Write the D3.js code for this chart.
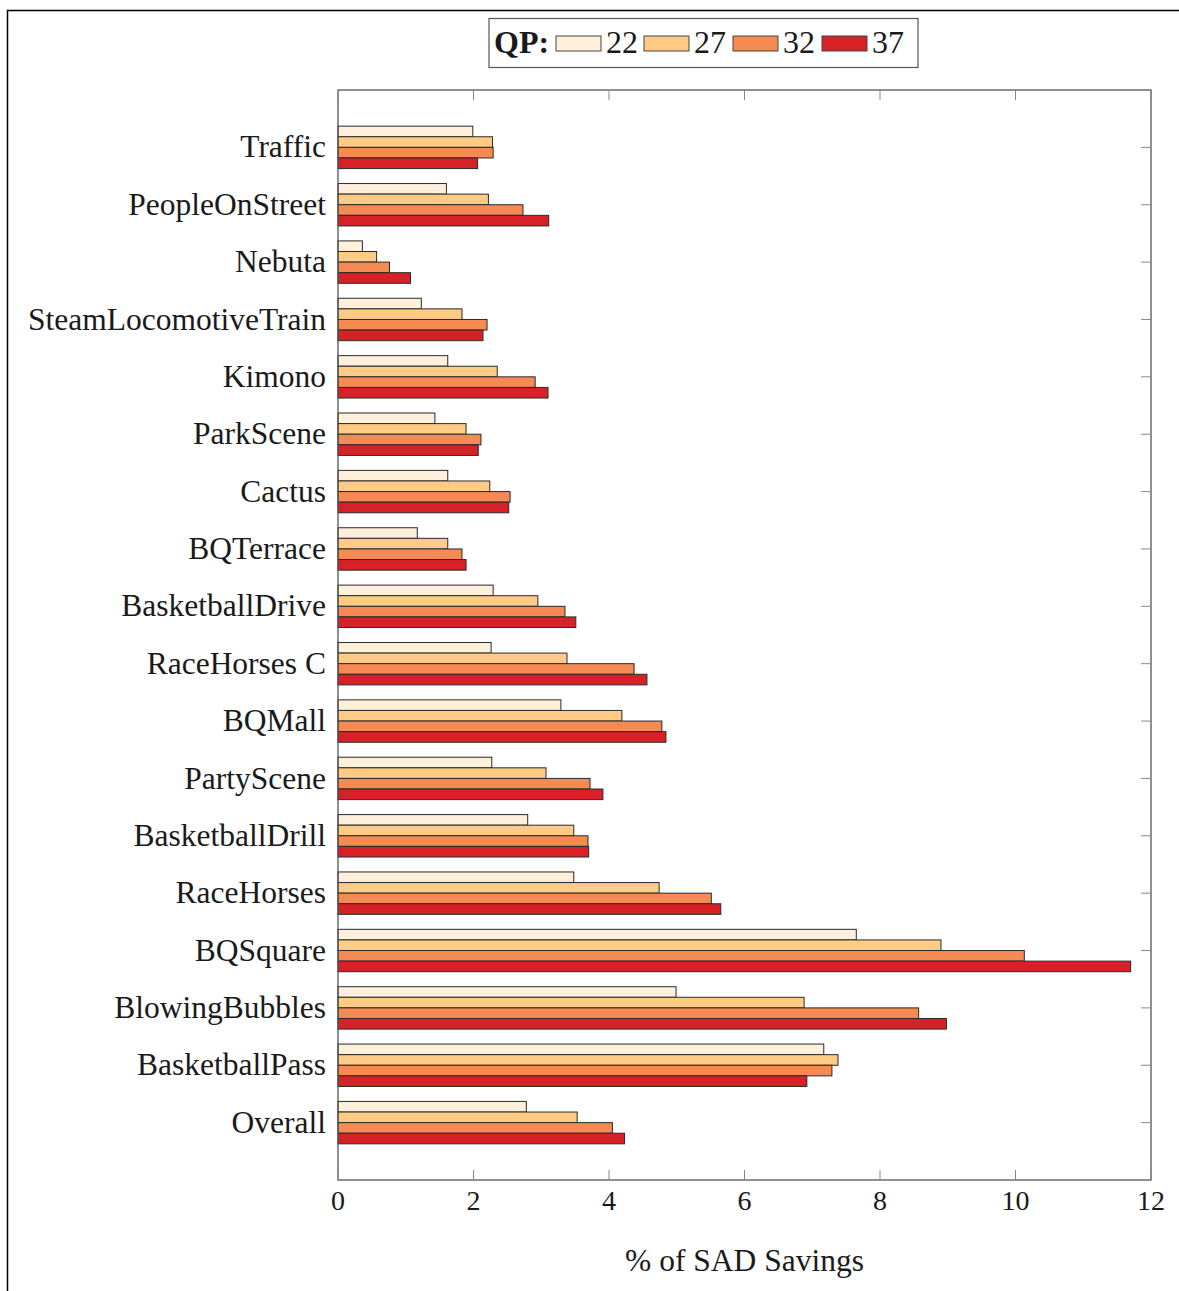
<!DOCTYPE html>
<html>
<head>
<meta charset="utf-8">
<script src="https://cdn.jsdelivr.net/npm/d3@7"></script>
<style>
  body { margin: 0; background: #fff; }
  svg { display: block; font-family: "Liberation Serif", "DejaVu Serif", serif; }
</style>
</head>
<body>
<div class="app"></div>
<script>
// sequences, top to bottom
var categories = ["Traffic", "PeopleOnStreet", "Nebuta", "SteamLocomotiveTrain", "Kimono",
  "ParkScene", "Cactus", "BQTerrace", "BasketballDrive", "RaceHorses C", "BQMall",
  "PartyScene", "BasketballDrill", "RaceHorses", "BQSquare", "BlowingBubbles",
  "BasketballPass", "Overall"];
var qps = ["22", "27", "32", "37"];
var qp22 = [1.99, 1.60, 0.36, 1.23, 1.62, 1.43, 1.62, 1.17, 2.29, 2.26, 3.29, 2.27, 2.80, 3.48, 7.65, 4.99, 7.17, 2.78];
var qp27 = [2.28, 2.22, 0.57, 1.83, 2.35, 1.89, 2.24, 1.62, 2.95, 3.38, 4.19, 3.07, 3.48, 4.74, 8.90, 6.88, 7.38, 3.53];
var qp32 = [2.29, 2.73, 0.76, 2.20, 2.91, 2.11, 2.54, 1.83, 3.35, 4.37, 4.78, 3.72, 3.69, 5.51, 10.13, 8.57, 7.29, 4.05];
var qp37 = [2.06, 3.11, 1.07, 2.14, 3.10, 2.07, 2.52, 1.89, 3.51, 4.56, 4.84, 3.91, 3.70, 5.65, 11.70, 8.98, 6.92, 4.23];
var xTicks = [0, 2, 4, 6, 8, 10, 12];
var colors = ["#fff0dc", "#ffcb85", "#f58a53", "#d62226"];

var width = 1179, height = 1291;
var margin = {left: 338, right: 28, top: 90, bottom: 111};

var svg = d3.select(".app").append("svg").attr("width", width).attr("height", height);

// cropped figure frame (top and left edges only)
svg.append("path").attr("d", "M7.5,1291V10.5H1179").attr("fill", "none").attr("stroke", "#000").attr("stroke-width", 1.5);

var x = d3.scaleLinear().domain([0, 12]).range([margin.left, width - margin.right]);
var y = d3.scalePoint().domain(categories).range([margin.top, height - margin.bottom]).padding(1);
var barH = 10.6;
var series = [qp22, qp27, qp32, qp37];

// bars
var rows = categories.map(function(c, i) {
  return {name: c, vals: series.map(function(s) { return s[i]; })};
});
var g = svg.append("g").selectAll("g").data(rows).enter().append("g");
g.selectAll("rect").data(function(d) { return d.vals.map(function(v, k) { return {v: v, k: k, name: d.name}; }); })
  .enter().append("rect")
  .attr("x", x(0))
  .attr("y", function(d) { return y(d.name) - 2 * barH + d.k * barH; })
  .attr("width", function(d) { return x(d.v) - x(0); })
  .attr("height", barH)
  .attr("fill", function(d) { return colors[d.k]; })
  .attr("stroke", "#2a2a2a").attr("stroke-width", 1);

// frame + inner ticks
var x0 = x(0), x1 = x(12), y0 = margin.top, y1 = height - margin.bottom;
svg.append("rect").attr("x", x0).attr("y", y0).attr("width", x1 - x0).attr("height", y1 - y0)
  .attr("fill", "none").attr("stroke", "#555").attr("stroke-width", 1.3);
var tl = 10;
var tg = svg.append("g").attr("stroke", "#888").attr("stroke-width", 1);
xTicks.forEach(function(t) {
  tg.append("line").attr("x1", x(t)).attr("x2", x(t)).attr("y1", y1).attr("y2", y1 - tl);
  tg.append("line").attr("x1", x(t)).attr("x2", x(t)).attr("y1", y0).attr("y2", y0 + tl);
});
categories.forEach(function(c) {
  tg.append("line").attr("x1", x1).attr("x2", x1 - tl).attr("y1", y(c)).attr("y2", y(c));
});

// x tick labels
svg.append("g").selectAll("text").data(xTicks).enter().append("text")
  .attr("x", function(d) { return x(d); }).attr("y", y1 + 30)
  .attr("text-anchor", "middle").attr("font-size", 28).attr("fill", "#1a1a1a")
  .text(function(d) { return d; });

// category labels
svg.append("g").selectAll("text").data(categories).enter().append("text")
  .attr("x", x0 - 12).attr("y", function(d) { return y(d); }).attr("dy", "0.32em")
  .attr("text-anchor", "end").attr("font-size", 31.5).attr("fill", "#1a1a1a")
  .text(function(d) { return d; });

// axis title
svg.append("text").attr("x", (x0 + x1) / 2).attr("y", 1271).attr("text-anchor", "middle")
  .attr("font-size", 31.5).attr("fill", "#1a1a1a").text("% of SAD Savings");

// legend
var lg = svg.append("g");
lg.append("rect").attr("x", 489).attr("y", 18.5).attr("width", 429).attr("height", 49)
  .attr("fill", "#fff").attr("stroke", "#555").attr("stroke-width", 1.2);
lg.append("text").attr("x", 494).attr("y", 53).attr("font-size", 32).attr("font-weight", "bold")
  .attr("fill", "#1a1a1a").text("QP:");
var legX = [556, 644, 733, 822];
qps.forEach(function(q, k) {
  lg.append("rect").attr("x", legX[k]).attr("y", 36).attr("width", 45).attr("height", 15)
    .attr("fill", colors[k]).attr("stroke", "#444").attr("stroke-width", 1);
  lg.append("text").attr("x", legX[k] + 50).attr("y", 53).attr("font-size", 32)
    .attr("fill", "#1a1a1a").text(q);
});
</script>
</body>
</html>
